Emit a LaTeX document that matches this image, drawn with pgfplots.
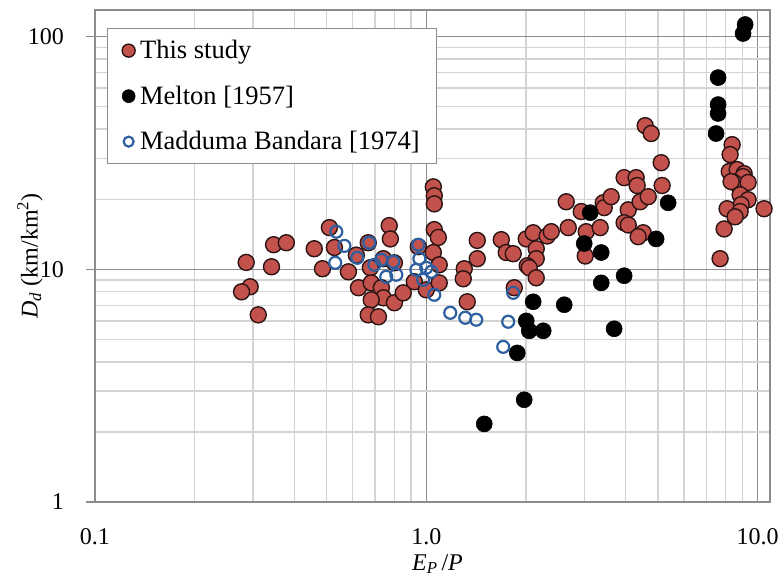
\documentclass[border=0pt]{standalone}
\usepackage{pgfplots}
\pgfplotsset{compat=1.18}
\usepackage{fontspec}
\setmainfont{Liberation Serif}

\definecolor{studyred}{RGB}{196,82,76}
\definecolor{studyedge}{RGB}{45,20,20}
\definecolor{maddblue}{RGB}{46,95,160}
\definecolor{majorgrid}{RGB}{140,140,140}
\definecolor{minorgrid}{RGB}{212,212,212}

\newcommand\axfont{\fontsize{24}{28}\selectfont}
\newcommand\legfont{\fontsize{26.5}{31}\selectfont}

\begin{document}
\begin{tikzpicture}
\begin{axis}[
  at={(0pt,0pt)}, anchor=south west,
  scale only axis, width=675pt, height=492pt,
  xmode=log, ymode=log,
  xmin=0.1, xmax=10.9, ymin=1, ymax=130,
  xtick={0.1,1,10}, xticklabels={0.1,1.0,10.0},
  ytick={1,10,100}, yticklabels={1,10,100},
  minor xtick={0.2,0.3,0.4,0.5,0.6,0.7,0.8,0.9,2,3,4,5,6,7,8,9},
  minor ytick={2,3,4,5,6,7,8,9,20,30,40,50,60,70,80,90},
  grid=both,
  major grid style={draw=majorgrid, line width=1.2pt},
  minor grid style={draw=minorgrid, line width=1.3pt},
  axis line style={draw=majorgrid, line width=1.3pt},
  tick align=outside, major tick length=9pt, minor tick length=0pt,
  xtick style={draw=none},
  ytick style={draw=majorgrid, line width=1.3pt},
  ytick pos=left,
  /pgf/number format/assume math mode=true,
  tick label style={font=\axfont},
  xticklabel style={anchor=north, inner sep=0pt, yshift=-17pt},
  yticklabel style={anchor=east, inner sep=0pt, xshift=-22pt},
  xlabel={\textit{E}\textsubscript{\textit{P}}\,/\textit{P}},
  ylabel={\textit{D}\textsubscript{\textit{d}} (km/km\textsuperscript{2})},
  label style={font=\axfont},
  xlabel style={at={(rel axis cs:0.5,0)}, anchor=center, xshift=5pt, yshift=-62pt},
  ylabel style={at={([xshift=-65pt]rel axis cs:0,0.5)}, anchor=center},
  legend cell align=left,
  legend image code/.code={\draw[#1] plot coordinates {(0pt,0pt)};},
  legend style={at={(rel axis cs:0,1)}, anchor=north west,
    xshift=12pt, yshift=-18pt,
    draw=majorgrid, line width=1.3pt, fill=white,
    font=\legfont, inner xsep=14.5pt, inner ysep=8pt, row sep=17.5pt,
    nodes={inner sep=2pt, text height=20pt, text depth=4pt},
    /tikz/every odd column/.append style={column sep=3pt}},
]

% This study
\addplot[only marks, mark=*, mark size=8pt,
  mark options={fill=studyred, draw=studyedge, line width=1.4pt},
  legend image post style={mark size=6.5pt}]
  table[row sep=\\] {
x y \\
0.286 10.7 \\ 0.294 8.41 \\ 0.277 8.00 \\ 0.311 6.37 \\ 0.346 12.75 \\
0.378 13.0 \\ 0.341 10.25 \\ 0.459 12.25 \\ 0.486 10.05 \\ 0.510 15.1 \\
0.528 12.4 \\ 0.582 9.75 \\ 0.615 11.5 \\ 0.624 8.33 \\ 0.668 13.0 \\
0.678 10.15 \\ 0.682 8.74 \\ 0.773 15.4 \\ 0.779 13.5 \\ 0.732 8.33 \\
0.742 7.54 \\ 0.682 7.39 \\ 0.668 6.37 \\ 0.717 6.25 \\ 0.801 7.18 \\
0.852 7.92 \\ 0.742 11.1 \\ 0.801 10.66 \\ 0.946 12.5 \\ 0.920 8.84 \\
1.000 8.16 \\ 1.050 22.6 \\ 1.057 20.7 \\ 1.057 19.1 \\ 1.057 14.8 \\
1.087 13.7 \\ 1.050 11.8 \\ 1.094 10.45 \\ 1.094 8.74 \\ 1.425 13.3 \\
1.425 11.1 \\ 1.302 10.05 \\ 1.293 9.1 \\ 1.329 7.25 \\ 1.684 13.4 \\
1.743 11.8 \\ 1.830 11.66 \\ 1.843 8.33 \\ 2.003 13.5 \\ 2.102 14.35 \\
2.317 13.9 \\ 2.147 12.25 \\ 2.147 11.1 \\ 2.017 10.35 \\ 2.045 10.15 \\
2.147 9.19 \\ 2.644 19.5 \\ 2.682 15.1 \\ 2.383 14.5 \\ 2.935 17.7 \\
3.039 14.5 \\ 3.018 11.4 \\ 3.349 15.1 \\ 3.420 19.3 \\ 3.444 18.4 \\
3.614 20.5 \\ 3.956 24.75 \\ 4.300 24.75 \\ 4.330 22.9 \\ 4.070 18.0 \\
4.420 19.5 \\ 4.675 20.5 \\ 3.956 15.85 \\ 4.070 15.5 \\ 4.515 14.35 \\
4.360 13.8 \\ 5.116 28.7 \\ 5.150 22.9 \\ 4.578 41.4 \\ 4.772 38.3 \\
8.377 34.3 \\ 8.260 31.1 \\ 8.210 26.3 \\ 8.675 26.8 \\ 9.106 25.75 \\
9.040 25.0 \\ 8.495 23.6 \\ 9.360 23.6 \\ 8.318 23.8 \\ 8.855 20.9 \\
9.360 19.9 \\ 8.920 18.95 \\ 8.090 18.2 \\ 8.855 17.7 \\ 8.550 16.8 \\
10.46 18.2 \\ 7.925 14.9 \\ 7.707 11.1 \\
};
\addlegendentry{This study}

% Melton [1957]
\addplot[only marks, mark=*, mark size=8pt,
  mark options={fill=black, draw=black, line width=0.6pt},
  legend image post style={mark size=6.5pt}]
  table[row sep=\\] {
x y \\
9.17 112.6 \\ 9.04 103.0 \\ 7.60 66.6 \\ 7.60 51.0 \\ 7.60 46.7 \\
7.495 38.3 \\ 5.37 19.3 \\ 4.94 13.5 \\ 3.125 17.5 \\ 2.997 12.9 \\
3.373 11.8 \\ 3.956 9.38 \\ 3.373 8.74 \\ 2.608 7.04 \\ 2.102 7.25 \\
2.003 6.0 \\ 2.045 5.44 \\ 2.254 5.44 \\ 3.69 5.55 \\ 1.882 4.37 \\
1.975 2.75 \\ 1.496 2.165 \\
};
\addlegendentry{Melton [1957]}

% Madduma Bandara [1974]
\addplot[only marks, mark=o, mark size=6pt,
  mark options={draw=maddblue, line width=2.2pt},
  legend image post style={mark size=5pt}]
  table[row sep=\\] {
x y \\
0.535 14.5 \\ 0.566 12.6 \\ 0.531 10.66 \\ 0.619 11.2 \\ 0.673 13.0 \\
0.697 10.45 \\ 0.732 10.98 \\ 0.757 9.28 \\ 0.812 9.47 \\ 0.795 10.77 \\
0.946 12.75 \\ 0.953 11.1 \\ 0.933 9.95 \\ 0.979 9.01 \\ 1.035 9.75 \\
1.000 10.15 \\ 1.057 7.77 \\ 1.181 6.50 \\ 1.311 6.19 \\ 1.415 6.07 \\
1.767 5.95 \\ 1.830 7.92 \\ 1.707 4.64 \\
};
\addlegendentry{Madduma Bandara [1974]}

\end{axis}
\pgfresetboundingbox
\path (-95pt,-75pt) rectangle (688pt,502pt);
\end{tikzpicture}
\end{document}
